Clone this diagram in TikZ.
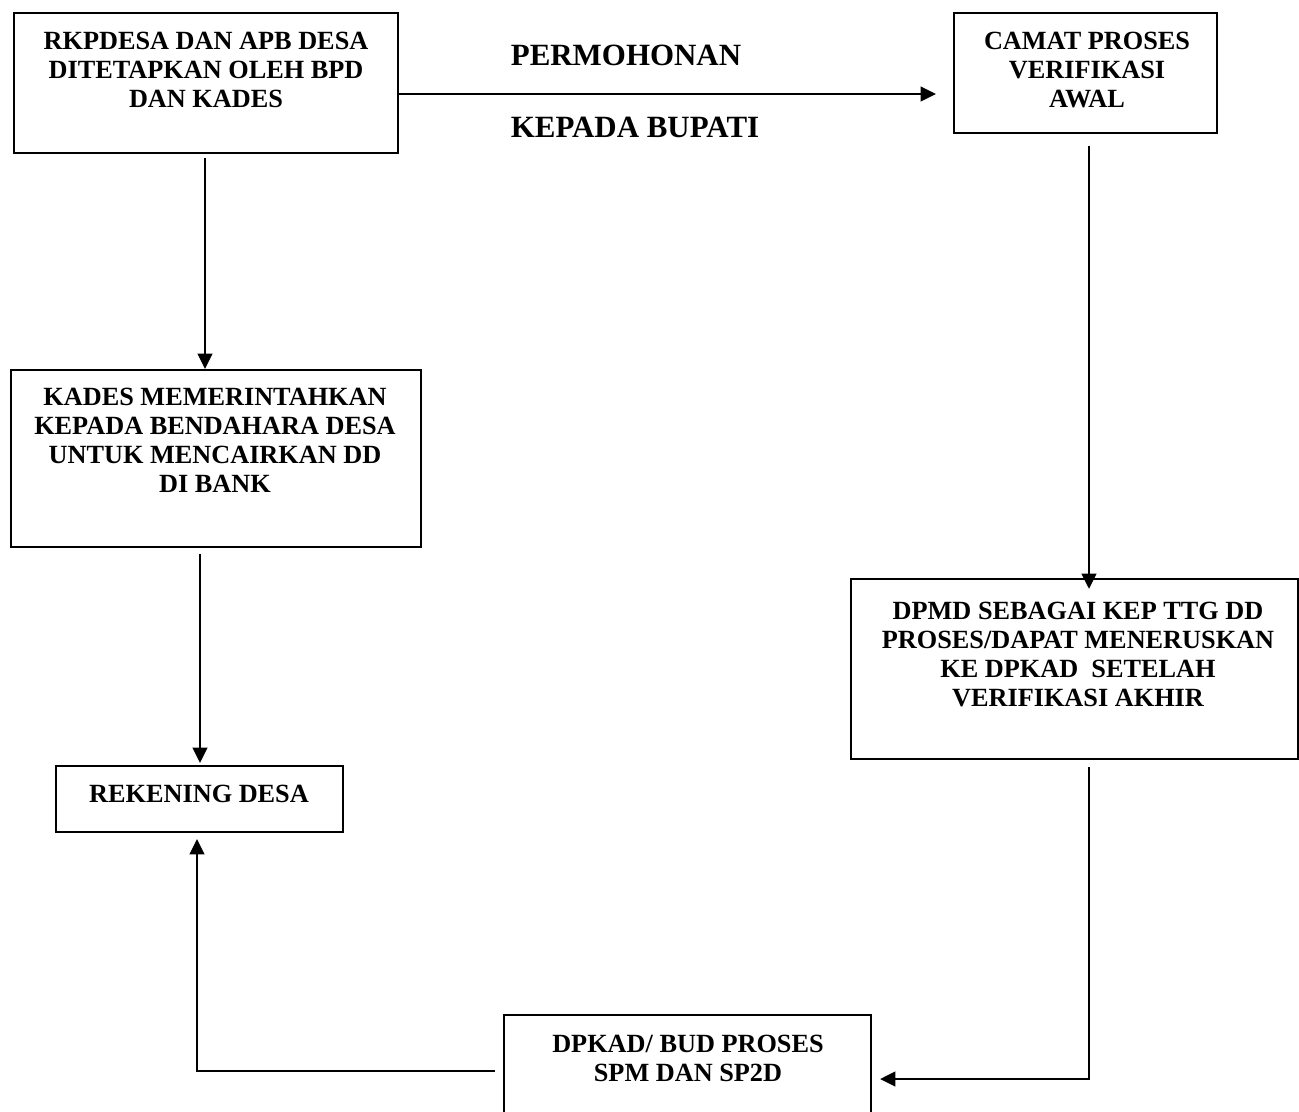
\documentclass[tikz,border=0pt]{standalone}
\usepackage{fontspec}
\setmainfont{Liberation Serif}
\usetikzlibrary{arrows.meta,fit}
\begin{document}
\begin{tikzpicture}[x=0.75pt,y=-0.75pt,
  box/.style={draw,line width=1.7pt,inner sep=0pt},
  txt/.style={anchor=north,inner sep=0pt,align=center,font=\bfseries\fontsize{19.7}{21.75}\selectfont},
  lbl/.style={anchor=north,inner sep=0pt,font=\bfseries\fontsize{23.2}{26}\selectfont},
  arr/.style={line width=1.7pt,-{Triangle[length=11.5pt,width=11pt]}},
  ]
\clip (0,0) rectangle (1299,1112);
\fill[white] (0,0) rectangle (1299,1112);
% helper coordinates
\coordinate (x197) at (197,0);
\coordinate (x200) at (200,0);
\coordinate (x205) at (205,0);
\coordinate (x1089) at (1089,0);
\coordinate (y94) at (0,94);
\coordinate (y1071) at (0,1071);
\coordinate (y1079) at (0,1079);
% boxes
\node[box, fit={(14,13) (398,153)}] (b1) {};
\node[box, fit={(954,13) (1217,133)}] (b2) {};
\node[box, fit={(11,370) (421,547)}] (b3) {};
\node[box, fit={(56,766) (343,832)}] (b4) {};
\node[box, fit={(851,579) (1298,759)}] (b5) {};
\node[box, fit={(504,1015) (871,1150)}] (b6) {};
% texts
\node[txt] (t1) at (206,32) {RKPDESA DAN APB DESA\\DITETAPKAN OLEH BPD\\DAN KADES};
\node[txt] (t2) at (1087,32) {CAMAT PROSES\\VERIFIKASI\\AWAL};
\node[txt] (t3) at (215,388) {KADES MEMERINTAHKAN\\KEPADA BENDAHARA DESA\\UNTUK MENCAIRKAN DD\\DI BANK};
\node[txt] (t4) at (199,785) {REKENING DESA};
\node[txt] (t5) at (1078,602) {DPMD SEBAGAI KEP TTG DD\\PROSES/DAPAT MENERUSKAN\\KE DPKAD\ \ SETELAH\\VERIFIKASI AKHIR};
\node[txt] (t6) at (688,1035) {DPKAD/ BUD PROSES\\SPM DAN SP2D};
\node[lbl] (l1) at (626,45) {PERMOHONAN};
\node[lbl] (l2) at (635,117) {KEPADA BUPATI};
% connectors
\draw[arr, shorten >=12.75pt] (b1.east |- y94) -- (b2.west |- y94);
\draw[arr, shorten <=3pt] (b1.south -| x205) -- (b3.north -| x205);
\draw[arr, shorten <=4.5pt, shorten >=1.5pt] (b3.south -| x200) -- (b4.north -| x200);
\draw[arr, shorten <=9pt, shorten >=-8.25pt] (b2.south -| x1089) -- (b5.north -| x1089);
\draw[arr, shorten <=5.25pt, shorten >=6pt] (b5.south -| x1089) -- (x1089 |- y1079) -- (b6.east |- y1079);
\draw[arr, shorten <=6pt, shorten >=4.5pt] (b6.west |- y1071) -- (x197 |- y1071) -- (b4.south -| x197);
\end{tikzpicture}
\end{document}
